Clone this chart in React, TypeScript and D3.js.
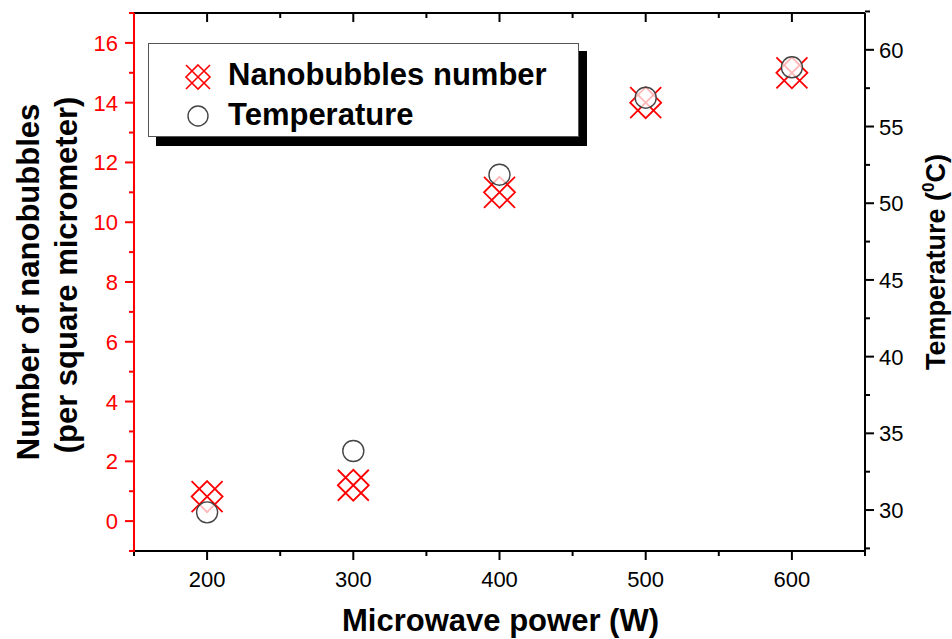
import React from "react";
import * as d3 from "d3";

const powers = [200, 300, 400, 500, 600];
const nanobubbles = [0.82, 1.2, 11.0, 14.0, 15.0];
const temperature = [29.85, 33.85, 51.86, 56.88, 58.86];
const xTicks = [200, 300, 400, 500, 600];
const xMinorTicks = [150, 250, 350, 450, 550, 650];
const leftTicks = [0, 2, 4, 6, 8, 10, 12, 14, 16];
const leftMinorTicks = [-1, 1, 3, 5, 7, 9, 11, 13, 15, 17];
const rightTicks = [30, 35, 40, 45, 50, 55, 60];
const rightMinorTicks = [27.5, 32.5, 37.5, 42.5, 47.5, 52.5, 57.5, 62.5];
const legendLabels = ["Nanobubbles number", "Temperature"];

const W = 952, H = 639;
const L = 134, R = 865, T = 13, B = 551;
const FONT = "Liberation Sans, Arial, sans-serif";
const RED = "#ff0000";

function crossPath(s: number) {
  // X through center + inscribed diamond -> 4 diamond cells
  return `M${-s},${-s}L${s},${s}M${s},${-s}L${-s},${s}` +
    `M0,${-s}L${s},0L0,${s}L${-s},0Z`;
}

export default function App() {
  const x = d3.scaleLinear().domain([150, 650]).range([L, R]);
  const yL = d3.scaleLinear().domain([-1, 17]).range([B, T]);
  const yR = d3.scaleLinear().domain([27.33, 62.4]).range([B, T]);
  const cp = crossPath(15.5);

  return (
    <svg width={W} height={H} style={{ position: "absolute", left: 0, top: 0 }} fontFamily={FONT}>
      <rect width={W} height={H} fill="white" />
      {/* frame */}
      <line x1={L} x2={R} y1={T} y2={T} stroke="black" strokeWidth={2} />
      <line x1={L} x2={R} y1={B} y2={B} stroke="black" strokeWidth={2} />
      <line x1={R} x2={R} y1={T} y2={B + 1} stroke="black" strokeWidth={2} />

      {/* bottom / top axis ticks */}
      {xTicks.map((t) => (
        <g key={"xb" + t}>
          <line x1={x(t)} x2={x(t)} y1={B} y2={B + 9} stroke="black" strokeWidth={2} />
          <line x1={x(t)} x2={x(t)} y1={T} y2={T + 9} stroke="black" strokeWidth={2} />
          <text x={x(t)} y={B + 36} textAnchor="middle" fontSize={22} fill="black">{t}</text>
        </g>
      ))}
      {xMinorTicks.map((t) => (
        <g key={"xm" + t}>
          <line x1={x(t)} x2={x(t)} y1={B} y2={B + 5} stroke="black" strokeWidth={2} />
          <line x1={x(t)} x2={x(t)} y1={T} y2={T + 5} stroke="black" strokeWidth={2} />
        </g>
      ))}

      {/* left axis */}
      <line x1={L} x2={L} y1={T} y2={B + 1} stroke={RED} strokeWidth={2} />
      {leftTicks.map((t) => (
        <g key={"yl" + t}>
          <line x1={L - 9} x2={L} y1={yL(t)} y2={yL(t)} stroke={RED} strokeWidth={2} />
          <text x={L - 16} y={yL(t) + 8} textAnchor="end" fontSize={22} fill={RED}>{t}</text>
        </g>
      ))}
      {leftMinorTicks.map((t) => (
        <line key={"ylm" + t} x1={L - 5} x2={L} y1={yL(t)} y2={yL(t)} stroke={RED} strokeWidth={2} />
      ))}

      {/* right axis */}
      {rightTicks.map((t) => (
        <g key={"yr" + t}>
          <line x1={R} x2={R + 9} y1={yR(t)} y2={yR(t)} stroke="black" strokeWidth={2} />
          <text x={R + 14} y={yR(t) + 8} textAnchor="start" fontSize={22} fill="black">{t}</text>
        </g>
      ))}
      {rightMinorTicks.map((t) => (
        <line key={"yrm" + t} x1={R} x2={R + 5} y1={yR(t)} y2={yR(t)} stroke="black" strokeWidth={2} />
      ))}

      {/* axis titles */}
      <text x={(L + R) / 2 + 1} y={631} textAnchor="middle" fontSize={31} fontWeight="bold">Microwave power (W)</text>
      <text transform={`translate(39,${(T + B) / 2}) rotate(-90)`} textAnchor="middle" fontSize={31} fontWeight="bold">Number of nanobubbles</text>
      <text transform={`translate(77,${(T + B) / 2 - 7}) rotate(-90)`} textAnchor="middle" fontSize={31} fontWeight="bold">(per square micrometer)</text>
      <text transform={`translate(945,262) rotate(-90)`} textAnchor="middle" fontSize={27} fontWeight="bold">
        Temperature (<tspan fontSize={17} dy={-11}>0</tspan><tspan dy={11}>C)</tspan>
      </text>

      {/* data: crosses */}
      {powers.map((p, i) => (
        <path key={"c" + p} d={cp} transform={`translate(${x(p)},${yL(nanobubbles[i])})`}
          fill="none" stroke={RED} strokeWidth={1.8} />
      ))}
      {/* data: circles */}
      {powers.map((p, i) => (
        <circle key={"t" + p} cx={x(p)} cy={yR(temperature[i])} r={10.5}
          fill="white" fillOpacity={0.72} stroke="#444" strokeWidth={1.4} />
      ))}

      {/* legend */}
      <rect x={156} y={51} width={431} height={95} fill="black" />
      <rect x={148.5} y={43.5} width={430} height={93} fill="white" stroke="#555" strokeWidth={1} />
      <path d={crossPath(12)} transform="translate(198,77)" fill="none" stroke={RED} strokeWidth={1.6} />
      <circle cx={198} cy={116} r={10} fill="white" stroke="#444" strokeWidth={1.4} />
      <text x={228} y={85} fontSize={31} fontWeight="bold">{legendLabels[0]}</text>
      <text x={228} y={125} fontSize={31} fontWeight="bold">{legendLabels[1]}</text>
    </svg>
  );
}
